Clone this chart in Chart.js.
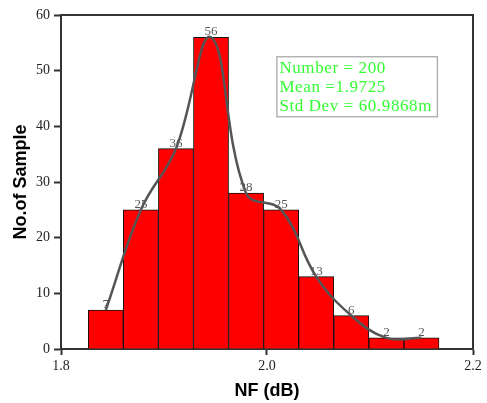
<!DOCTYPE html>
<html>
<head>
<meta charset="utf-8">
<script src="https://cdn.jsdelivr.net/npm/chart.js@4.4.1/dist/chart.umd.min.js"></script>
<style>
  html, body { margin: 0; padding: 0; background: #fff; }
  #wrap { width: 487px; height: 403px; position: relative; }
</style>
</head>
<body>
<div id="wrap"><canvas id="chart"></canvas></div>
<script>
// histogram bins (centres, in dB) and counts
const binCenters = [1.8435, 1.87755, 1.9116, 1.94565, 1.9797, 2.01375, 2.0478, 2.08185, 2.1159, 2.14995];
const counts = [7, 25, 36, 56, 28, 25, 13, 6, 2, 2];
const xTickValues = [1.8, 2.0, 2.2];
const yTickValues = [0, 10, 20, 30, 40, 50, 60];
const statsLines = ['Number = 200', 'Mean =1.9725', 'Std Dev = 60.9868m'];

const points = binCenters.map((x, i) => ({ x: x, y: counts[i] }));

const serif = '"Liberation Serif", "DejaVu Serif", serif';
const axisColor = '#333';

// count above each bar, drawn right after the bars so the curve sits on top
const barLabels = {
  id: 'barLabels',
  afterDatasetDraw(chart, args) {
    if (args.index !== 1) return;
    const ctx = chart.ctx;
    ctx.save();
    ctx.font = '13px ' + serif;
    ctx.fillStyle = '#555';
    ctx.textAlign = 'center';
    ctx.textBaseline = 'bottom';
    args.meta.data.forEach((bar, i) => {
      ctx.fillText(String(counts[i]), bar.x, bar.y + 1);
    });
    ctx.restore();
  }
};

// top/right frame plus the stats box
const frameAndStats = {
  id: 'frameAndStats',
  afterDraw(chart) {
    const { ctx, chartArea: a } = chart;
    ctx.save();
    ctx.strokeStyle = axisColor;
    ctx.lineWidth = 2;
    ctx.beginPath();
    ctx.moveTo(a.left, a.top);
    ctx.lineTo(a.right, a.top);
    ctx.lineTo(a.right, a.bottom);
    ctx.stroke();

    const bx = a.left + 0.524 * (a.right - a.left);
    const by = a.top + 0.125 * (a.bottom - a.top);
    ctx.lineWidth = 1.3;
    ctx.strokeStyle = '#aaa';
    ctx.strokeRect(bx, by, 160.5, 60);

    ctx.font = '17px ' + serif;
    ctx.letterSpacing = '0.6px';
    ctx.fillStyle = '#33ff33';
    ctx.textAlign = 'left';
    ctx.textBaseline = 'middle';
    statsLines.forEach((t, i) => {
      ctx.fillText(t, bx + 2.5, by + 11.5 + i * 19.3);
    });
    ctx.restore();
  }
};

new Chart(document.getElementById('chart'), {
  type: 'bar',
  data: {
    datasets: [
      {
        type: 'line',
        data: points,
        borderColor: '#555',
        borderWidth: 2.5,
        pointRadius: 0,
        tension: 0.4,
        fill: false,
        order: 0
      },
      {
        type: 'bar',
        data: points,
        backgroundColor: '#ff0000',
        borderColor: '#111',
        borderWidth: 1,
        barPercentage: 1,
        categoryPercentage: 1,
        order: 1
      }
    ]
  },
  options: {
    responsive: true,
    maintainAspectRatio: false,
    animation: false,
    layout: { padding: { left: 0, top: 15, right: 14, bottom: 0 } },
    plugins: { legend: { display: false }, tooltip: { enabled: false } },
    scales: {
      x: {
        type: 'linear',
        min: 1.8,
        max: 2.2,
        offset: false,
        afterBuildTicks: s => { s.ticks = xTickValues.map(v => ({ value: v })); },
        afterFit: s => { s.height = 54; },
        grid: { drawOnChartArea: false, offset: false, tickLength: 6, tickWidth: 2, tickColor: axisColor },
        border: { display: true, width: 2, color: axisColor },
        ticks: {
          font: { family: serif, size: 14 },
          color: '#222',
          padding: 3,
          maxRotation: 0,
          callback: v => Number(v).toFixed(1)
        },
        title: {
          display: true,
          text: 'NF (dB)',
          font: { family: '"Liberation Sans", Arial, sans-serif', size: 18, weight: 'bold' },
          color: '#000',
          padding: { top: 0, bottom: 1 }
        }
      },
      y: {
        min: 0,
        max: 60,
        afterBuildTicks: s => { s.ticks = yTickValues.map(v => ({ value: v })); },
        afterFit: s => { s.width = 61; },
        grid: { drawOnChartArea: false, tickLength: 7, tickWidth: 2, tickColor: axisColor },
        border: { display: true, width: 2, color: axisColor },
        ticks: {
          font: { family: serif, size: 14 },
          color: '#222',
          padding: 4
        },
        title: {
          display: true,
          text: 'No.of Sample',
          font: { family: '"Liberation Sans", Arial, sans-serif', size: 18, weight: 'bold' },
          color: '#000',
          padding: { top: 10, bottom: 0 }
        }
      }
    }
  },
  plugins: [barLabels, frameAndStats]
});
</script>
</body>
</html>
